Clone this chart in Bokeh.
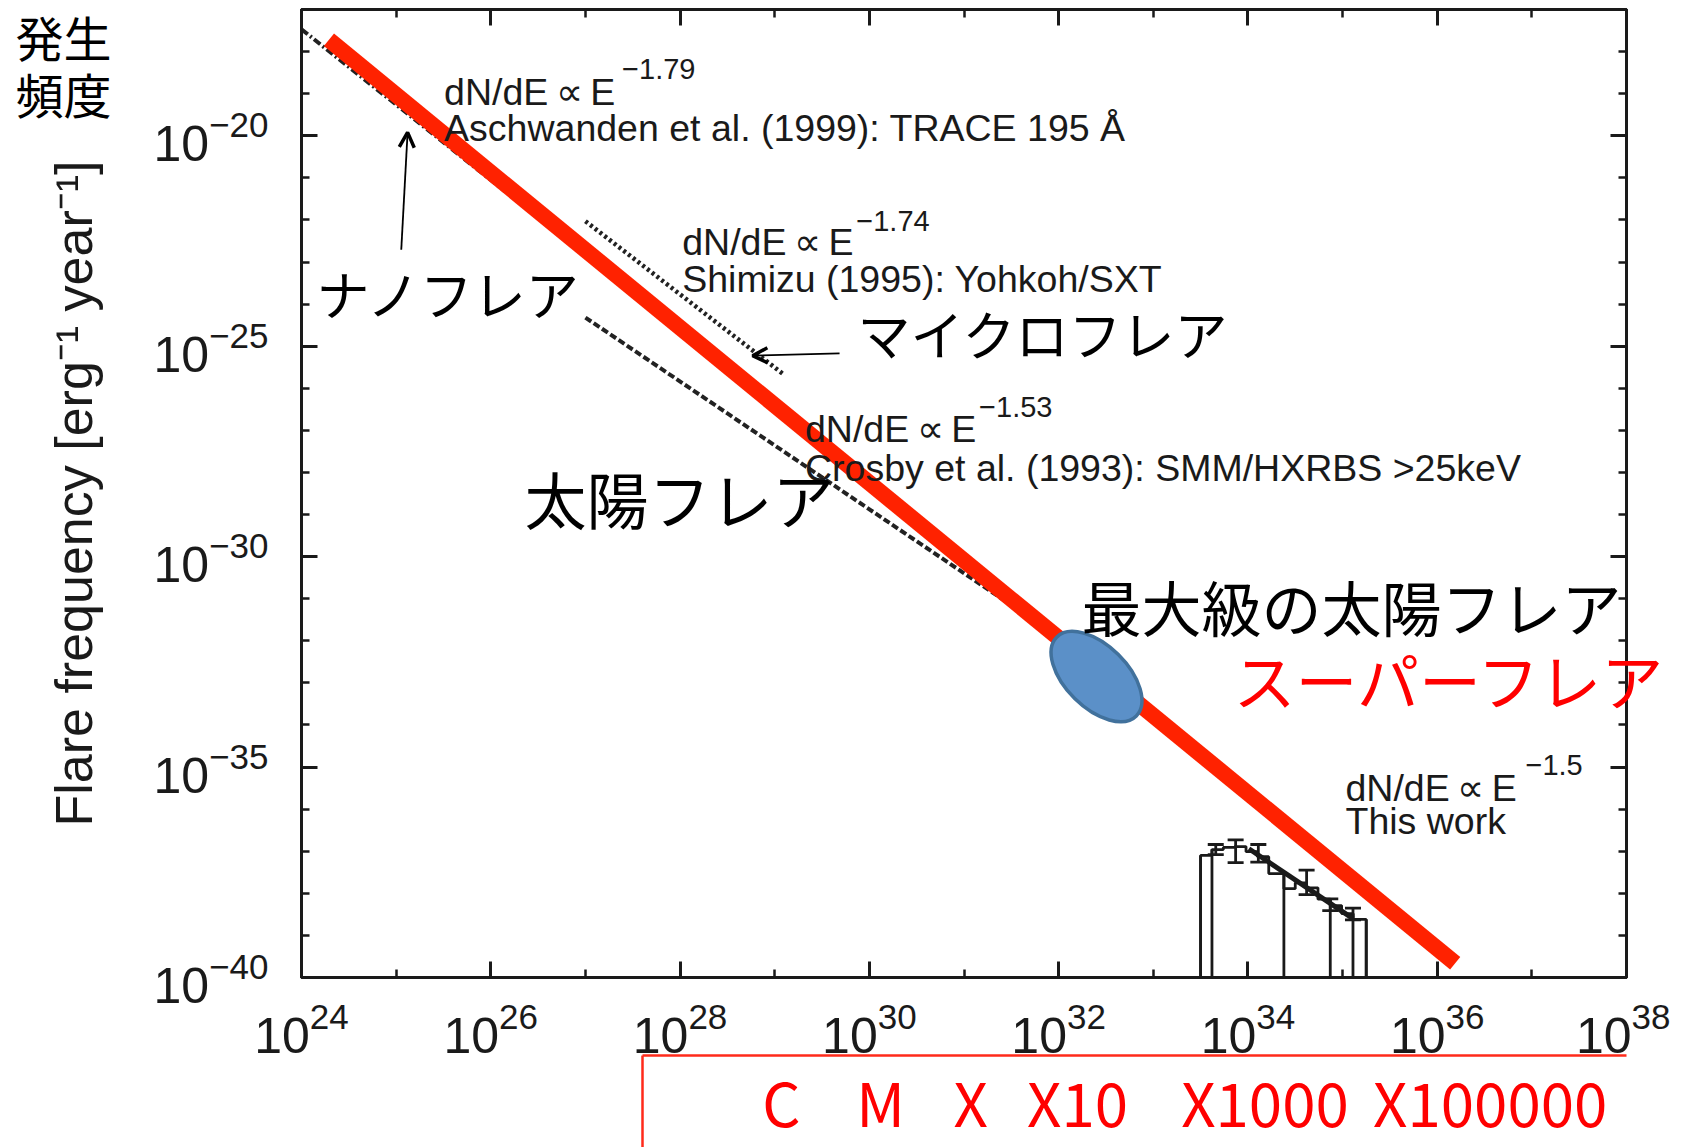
import math
import numpy as np
from bokeh.plotting import figure
from bokeh.models import (Label, LogAxis, FixedTicker, Arrow, OpenHead, Whisker, TeeHead,
                          ColumnDataSource, CustomJSTickFormatter)
from bokeh.embed import file_html
from bokeh.resources import INLINE

# ---------------- data (log10 values) ----------------
x_major_exp = [24, 26, 28, 30, 32, 34, 36, 38]
x_minor_exp = [25, 27, 29, 31, 33, 35, 37]
y_major_exp = [-40, -35, -30, -25, -20]
y_minor_exp = [-39, -38, -37, -36, -34, -33, -32, -31, -29, -28, -27, -26,
               -24, -23, -22, -21, -19, -18, -17]

# red overlay power law
red_logE = [24.29, 36.19]
red_logF = [-17.72, -39.66]
# Aschwanden et al. (1999)  E^-1.79
asch_logE = [24.0, 26.15]
asch_logF = [-17.47, -21.32]
# Shimizu (1995)  E^-1.74
shim_logE = [27.0, 29.1]
shim_logF = [-22.03, -25.68]
# Crosby et al. (1993)  E^-1.53
cros_logE = [27.0, 31.88]
cros_logF = [-24.32, -31.73]
# This work: histogram
hist_edges_logE = [33.50, 33.62, 33.74, 33.86, 33.98, 34.10, 34.22, 34.38,
                   34.50, 34.62, 34.74, 34.87, 34.99, 35.11, 35.25]
hist_logF = [-37.10, -36.96, -36.91, -36.89, -37.01, -37.13, -37.53,
             -37.89, -37.75, -37.87, -38.14, -38.29, -38.48, -38.62]
hist_drop_logE = [33.50, 33.62, 34.38, 34.87, 35.11, 35.25]
eb_logE = [33.66, 33.87, 34.11, 34.62, 34.87, 35.11]
eb_logF = [-36.96, -37.00, -37.05, -37.74, -38.27, -38.49]
eb_err = [0.12, 0.27, 0.21, 0.29, 0.14, 0.14]
fit_logE = [34.01, 35.11]
fit_logF = [-36.94, -38.60]
# largest solar flare marker
big_logE = [32.40]
big_logF = [-32.85]
# arrows (tail -> tip)
nano_arrow = dict(tailE=25.054, tailF=-22.708, tipE=25.121, tipF=-19.92)
micro_arrow = dict(tailE=29.685, tailF=-25.171, tipE=28.766, tipF=-25.226)
# flare classes under the axis
flare_classes = ["C", "M", "X", "X10", "X1000", "X100000"]
class_logE = [29.07, 30.12, 31.07, 32.20, 34.18, 36.56]

XMIN, XMAX = 1e24, 1e38
YMIN, YMAX = 1e-40, 1e-17
INK = "#1a1a1a"
SANS = "Liberation Sans"
JP = "Noto Sans CJK JP"

p = figure(width=1670, height=1147, x_axis_type="log", y_axis_type="log",
           x_range=(XMIN, XMAX), y_range=(YMIN, YMAX),
           output_backend="svg", toolbar_location=None,
           min_border_left=301, min_border_right=41, min_border_top=9,
           min_border_bottom=170)
p.grid.visible = False
p.outline_line_color = INK
p.outline_line_width = 3
p.background_fill_color = "white"
p.border_fill_color = "white"

blank = CustomJSTickFormatter(code="return ''")

def style_axis(ax, major, minor, show_labels):
    ax.ticker = FixedTicker(ticks=[10.0 ** e for e in major],
                            minor_ticks=[10.0 ** e for e in minor])
    if not show_labels:
        ax.formatter = blank
        ax.major_label_text_font_size = "0px"
        ax.major_label_standoff = 0
    ax.axis_line_width = 3
    ax.axis_line_color = INK
    ax.major_tick_line_width = 3
    ax.major_tick_line_color = INK
    ax.minor_tick_line_width = 2.5
    ax.minor_tick_line_color = INK
    ax.major_tick_in = 16
    ax.major_tick_out = 0
    ax.minor_tick_in = 8
    ax.minor_tick_out = 0

xa = p.xaxis[0]
style_axis(xa, x_major_exp, x_minor_exp, True)
xa.major_label_text_font = SANS
xa.major_label_text_font_size = "50px"
xa.major_label_text_color = INK
xa.major_label_standoff = 24

ya = p.yaxis[0]
style_axis(ya, y_major_exp, y_minor_exp, True)
ya.major_label_text_font = SANS
ya.major_label_text_font_size = "50px"
ya.major_label_text_color = INK
ya.major_label_standoff = 33
ya.axis_label = "Flare frequency [erg\u207b\u00b9 year\u207b\u00b9]"
ya.axis_label_text_font = SANS
ya.axis_label_text_font_size = "52px"
ya.axis_label_text_font_style = "normal"
ya.axis_label_text_color = INK
ya.axis_label_standoff = 48

top_axis = LogAxis()
style_axis(top_axis, x_major_exp, x_minor_exp, False)
p.add_layout(top_axis, "above")
right_axis = LogAxis()
style_axis(right_axis, y_major_exp, y_minor_exp, False)
p.add_layout(right_axis, "right")

def pw(a):
    return list(10.0 ** np.array(a, dtype=float))

# ---------------- literature power laws ----------------
p.line(pw(asch_logE), pw(asch_logF), line_color="#222222", line_width=4,
       line_dash="8 3 2 3")
p.line(pw(shim_logE), pw(shim_logF), line_color="#222222", line_width=4.5,
       line_dash="3 3")
p.line(pw(cros_logE), pw(cros_logF), line_color="#222222", line_width=4,
       line_dash="7 3")

# ---------------- this work histogram ----------------
xs, ys = [hist_edges_logE[0]], [-40.0]
for i, h in enumerate(hist_logF):
    xs += [hist_edges_logE[i], hist_edges_logE[i + 1]]
    ys += [h, h]
xs.append(hist_edges_logE[-1]); ys.append(-40.0)
p.line(pw(xs), pw(ys), line_color=INK, line_width=2.8)
drop_top = []
for d in hist_drop_logE:
    j = hist_edges_logE.index(d)
    nb = []
    if j > 0:
        nb.append(hist_logF[j - 1])
    if j < len(hist_logF):
        nb.append(hist_logF[j])
    drop_top.append(max(nb))
p.segment(x0=pw(hist_drop_logE), y0=[YMIN] * len(hist_drop_logE),
          x1=pw(hist_drop_logE), y1=pw(drop_top), line_color=INK, line_width=2.8)
eb_src = ColumnDataSource(dict(
    x=pw(eb_logE),
    upper=pw(np.array(eb_logF) + np.array(eb_err)),
    lower=pw(np.array(eb_logF) - np.array(eb_err))))
p.add_layout(Whisker(source=eb_src, base="x", upper="upper", lower="lower",
                     dimension="height", line_color=INK, line_width=2.8,
                     upper_head=TeeHead(size=16, line_width=2.8, line_color=INK),
                     lower_head=TeeHead(size=16, line_width=2.8, line_color=INK)))
p.line(pw(fit_logE), pw(fit_logF), line_color=INK, line_width=5)

# ---------------- red overlay + marker ----------------
p.line(pw(red_logE), pw(red_logF), line_color="#ff2200", line_width=16)
p.ellipse(x=pw(big_logE), y=pw(big_logF), width=112, height=62,
          width_units="screen", height_units="screen", angle=-0.78,
          fill_color="#5b90c8", line_color="#41719c", line_width=3.5)

# ---------------- arrows ----------------
for a in (nano_arrow, micro_arrow):
    p.add_layout(Arrow(x_start=10 ** a["tailE"], y_start=10 ** a["tailF"],
                       x_end=10 ** a["tipE"], y_end=10 ** a["tipF"],
                       line_color="black", line_width=1.8,
                       end=OpenHead(size=15, line_width=3.5, line_color="black")))

# ---------------- in-frame text ----------------
FL, FB = 301, 977          # frame bottom-left corner, pixels
PXX = (1629 - 301) / 14.0  # pixels per decade (x)
PXY = (977 - 9) / 23.0     # pixels per decade (y)

def lab(text, X, Y, size, font=SANS, color=INK, align="left",
        baseline="alphabetic"):
    p.add_layout(Label(x=XMIN, y=YMIN, x_offset=X - FL, y_offset=FB - Y,
                       text=text, text_font=font, text_font_size=f"{size}px",
                       text_color=color, text_align=align,
                       text_baseline=baseline))

BASE, SUP = 37.5, 29
DNDE = "dN/dE\u2009\u221d\u2009E"
lab(DNDE, 443.6, 91.7, BASE)
lab("\u22121.79", 621.6, 68.3, SUP)
lab("Aschwanden et al. (1999): TRACE 195 \u00c5", 443.6, 127, BASE)
lab(DNDE, 681.7, 241.7, BASE)
lab("\u22121.74", 855.8, 220, SUP)
lab("Shimizu (1995): Yohkoh/SXT", 681.7, 278.3, BASE)
lab(DNDE, 804.5, 428.3, BASE)
lab("\u22121.53", 978.6, 406.7, SUP)
lab("Crosby et al. (1993): SMM/HXRBS >25keV", 804.5, 467, BASE)
lab(DNDE, 1345, 787, BASE)
lab("\u22121.5", 1525, 764, SUP)
lab("This work", 1345, 820, BASE)

lab("ナノフレア", 316, 292, 53, font=JP, color="black", baseline="middle")
lab("マイクロフレア", 857, 332, 53, font=JP, color="black", baseline="middle")
lab("太陽フレア", 524, 497, 62, font=JP, color="black", baseline="middle")
lab("最大級の太陽フレア", 1081, 605, 60, font=JP, color="black", baseline="middle")

# ---------------- text outside the frame: carried by side-panel axes ----------------
def ey(Y):  # page y -> data y
    return 10 ** (-40 + (FB - Y) / PXY)

def ex(X):  # page x -> data x
    return 10 ** (24 + (X - FL) / PXX)

def text_axis(side, ticks, texts, size, color, font, standoff):
    ax = LogAxis(ticker=FixedTicker(ticks=ticks, minor_ticks=[]),
                 major_label_overrides=dict(zip(ticks, texts)),
                 axis_line_color=None, major_tick_line_color=None,
                 minor_tick_line_color=None, major_tick_in=0, major_tick_out=0,
                 minor_tick_in=0, minor_tick_out=0,
                 major_label_text_font=font,
                 major_label_text_font_size=f"{size}px",
                 major_label_text_color=color, major_label_standoff=standoff)
    p.add_layout(ax, side)
    return ax

# 発生 / 頻度 (top-left corner), stacked outside the y-axis panel
text_axis("left", [ey(12), ey(92)], ["発生", "頻度"], 48, "black", JP, -70)
# スーパーフレア crosses the right frame edge
text_axis("right", [ey(678)], ["スーパーフレア"], 62, "#ff0000", JP, -393)

# flare-class box below the tick labels
cls_ticks = pw(class_logE)
box_left = ex(643)
cls_axis = LogAxis(ticker=FixedTicker(ticks=cls_ticks, minor_ticks=[box_left]),
                   major_label_overrides=dict(zip(cls_ticks, flare_classes)),
                   bounds=(box_left * 0.999, XMAX),
                   axis_line_color="#ff2a1a", axis_line_width=2.5,
                   major_tick_line_color=None, major_tick_in=0, major_tick_out=0,
                   minor_tick_line_color="#ff2a1a", minor_tick_line_width=2.5,
                   minor_tick_in=0, minor_tick_out=94,
                   major_label_text_font=JP, major_label_text_font_size="60px",
                   major_label_text_color="#ff0000", major_label_standoff=-93)
p.add_layout(cls_axis, "below")

open("out.html", "w").write(file_html(p, INLINE))
